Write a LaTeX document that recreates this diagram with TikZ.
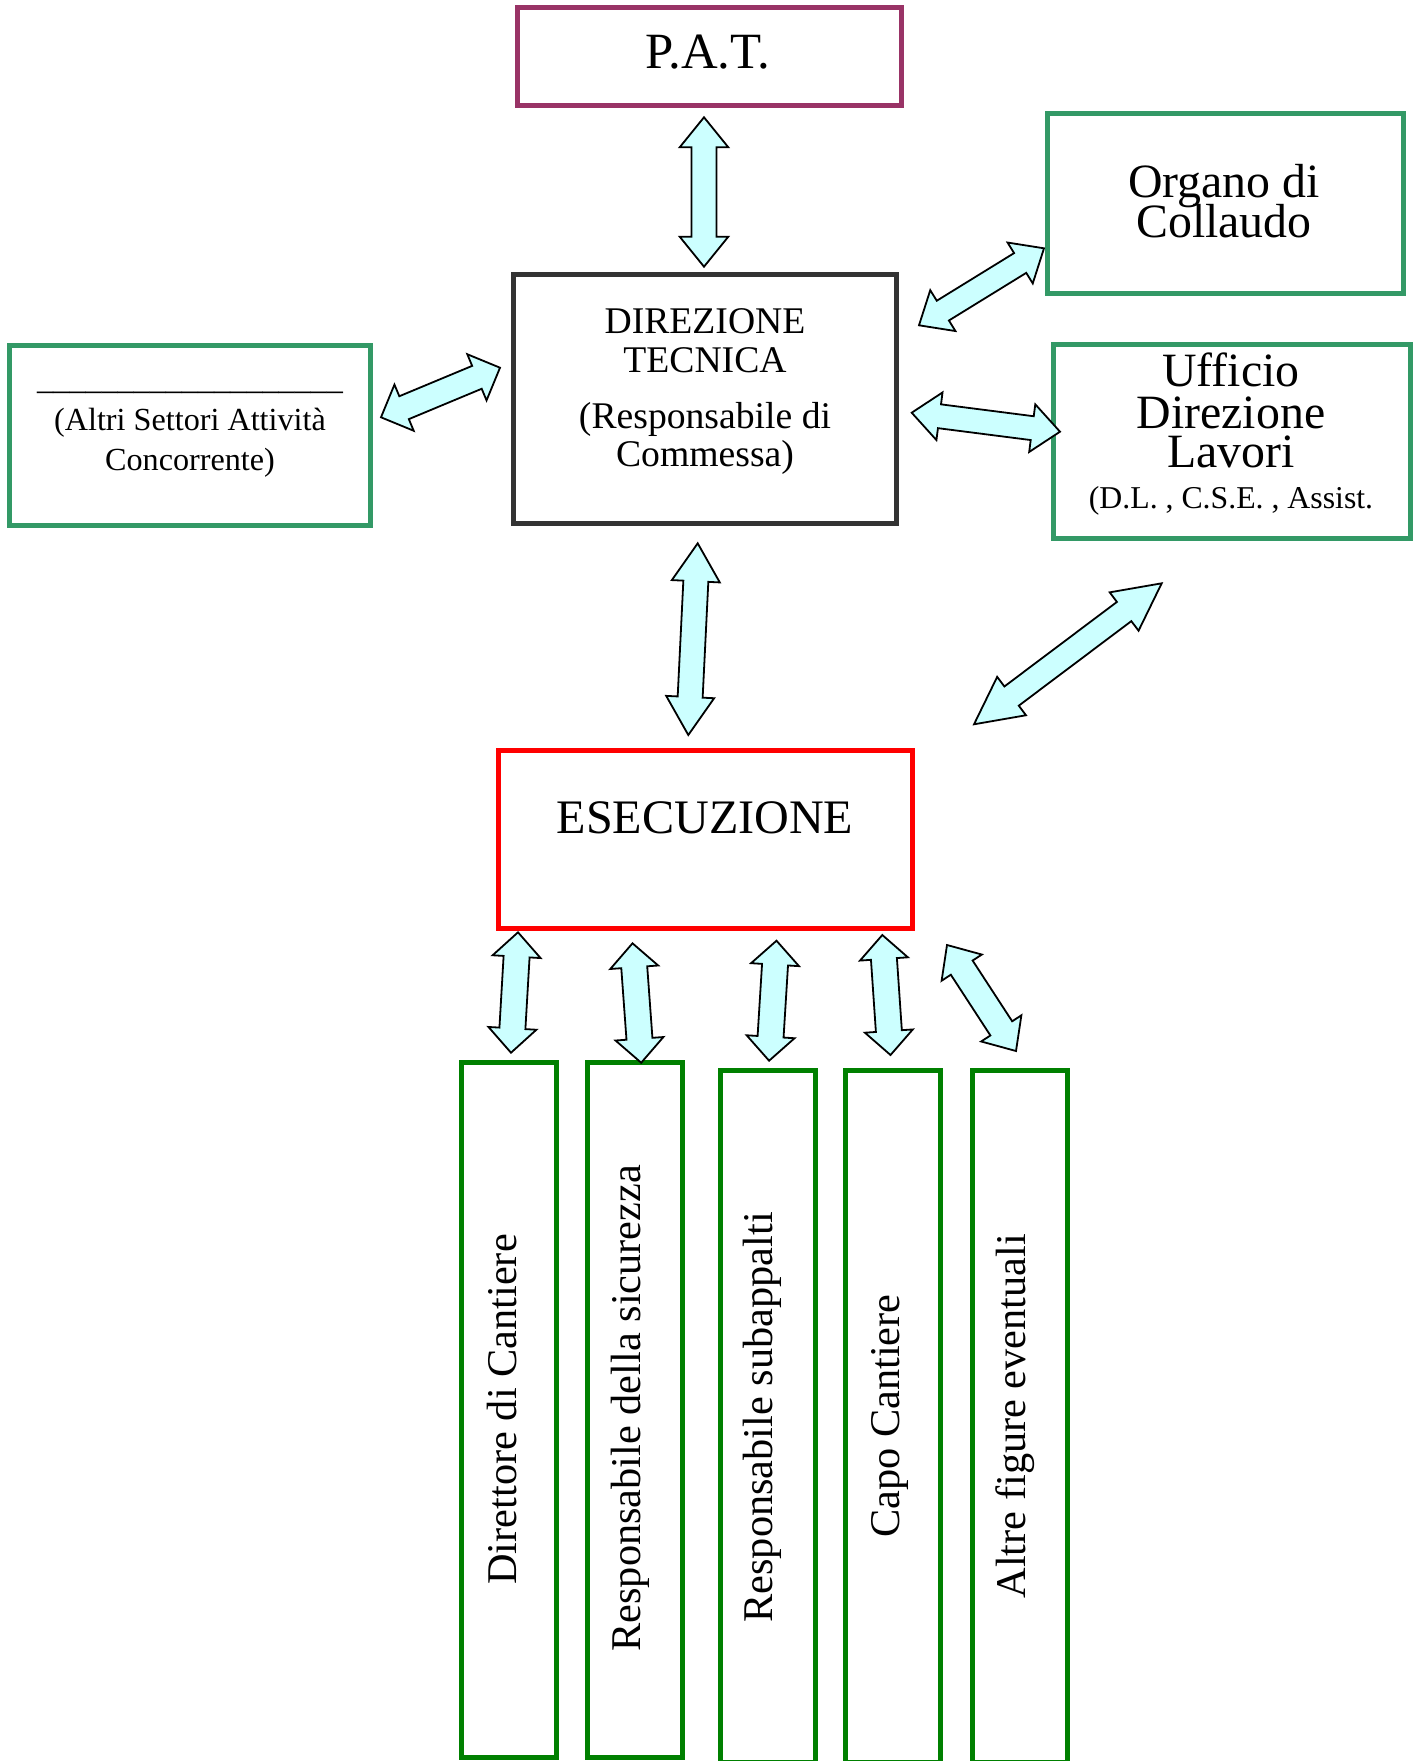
\documentclass[tikz,border=0pt]{standalone}
\usepackage{fontspec}
\setmainfont{Liberation Serif}
\usetikzlibrary{calc}
\definecolor{patcol}{RGB}{153,51,102}
\definecolor{dtcol}{RGB}{51,51,51}
\definecolor{grcol}{RGB}{51,153,102}
\definecolor{bgreen}{RGB}{0,128,0}
\definecolor{esred}{RGB}{255,0,0}
\definecolor{arrfill}{RGB}{204,255,255}
% #1 start, #2 end, #3 head length, #4 head half-width, #5 shaft half-width
\newcommand{\dblarrow}[5]{%
  \path ($(#1)!#3!(#2)$) coordinate (ba-a) ($(#2)!#3!(#1)$) coordinate (ba-b);
  \draw[barrow] (#1) -- ($(ba-a)!#4!90:(#2)$) -- ($(ba-a)!#5!90:(#2)$)
    -- ($(ba-b)!#5!-90:(#1)$) -- ($(ba-b)!#4!-90:(#1)$) -- (#2)
    -- ($(ba-b)!#4!90:(#1)$) -- ($(ba-b)!#5!90:(#1)$)
    -- ($(ba-a)!#5!-90:(#2)$) -- ($(ba-a)!#4!-90:(#2)$) -- cycle;}
\begin{document}
\begin{tikzpicture}[x=1bp,y=-1bp,
  box/.style={draw, line width=5bp, rectangle, inner sep=0pt, outer sep=0pt},
  barrow/.style={draw=black, fill=arrfill, line width=1.8bp, line join=miter},
  lbl/.style={anchor=base, inner sep=0pt, outer sep=0pt},
  vlbl/.style={anchor=base, rotate=90, inner sep=0pt, outer sep=0pt, font=\fontsize{42.5}{42.5}\selectfont}]
\useasboundingbox (0,0) rectangle (1420,1761);
\fill[white] (0,0) rectangle (1420,1761);

% boxes
\node[box, draw=patcol, minimum width=384bp, minimum height=98bp] (pat) at (709.5,56.5) {};
\node[box, draw=dtcol, minimum width=383bp, minimum height=249.5bp] (dt) at (705,398.75) {};
\node[box, draw=grcol, minimum width=356bp, minimum height=179.5bp] (org) at (1225,203.25) {};
\node[box, draw=grcol, minimum width=357bp, minimum height=194bp] (udl) at (1231.5,441.5) {};
\node[box, draw=grcol, minimum width=361bp, minimum height=180bp] (alt) at (190.3,435.2) {};
\node[box, draw=esred, minimum width=414bp, minimum height=178.5bp] (ese) at (705,839.25) {};
\node[box, draw=bgreen, minimum width=95.5bp, minimum height=695.5bp] (b1) at (508.75,1409.75) {};
\node[box, draw=bgreen, minimum width=95bp, minimum height=695.5bp] (b2) at (635,1409.75) {};
\node[box, draw=bgreen, minimum width=95bp, minimum height=692bp] (b3) at (767.5,1416) {};
\node[box, draw=bgreen, minimum width=95bp, minimum height=692bp] (b4) at (893,1416) {};
\node[box, draw=bgreen, minimum width=95.5bp, minimum height=692bp] (b5) at (1019.75,1416) {};

% texts
\node[lbl, font=\fontsize{51}{51}\selectfont] (pat-t) at (708,68.3) {P.A.T.};
\node[lbl, font=\fontsize{37.8}{37.8}\selectfont] (dt-t1) at (705,333.3) {DIREZIONE};
\node[lbl, font=\fontsize{37.8}{37.8}\selectfont] (dt-t2) at (705,372.7) {TECNICA};
\node[lbl, font=\fontsize{37.8}{37.8}\selectfont] (dt-t3) at (705,428.3) {(Responsabile di};
\node[lbl, font=\fontsize{37.8}{37.8}\selectfont] (dt-t4) at (705,466.7) {Commessa)};
\node[lbl, font=\fontsize{48}{48}\selectfont] (org-t1) at (1224,197.3) {Organo di};
\node[lbl, font=\fontsize{48}{48}\selectfont] (org-t2) at (1224,237.5) {Collaudo};
\node[lbl, font=\fontsize{48}{48}\selectfont] (udl-t1) at (1231,386.7) {Ufficio};
\node[lbl, font=\fontsize{48}{48}\selectfont] (udl-t2) at (1231,428.3) {Direzione};
\node[lbl, font=\fontsize{48}{48}\selectfont] (udl-t3) at (1231,467.7) {Lavori};
\node[lbl, font=\fontsize{31.9}{31.9}\selectfont] (udl-t4) at (1231,508.3) {(D.L. , C.S.E. , Assist.};
\node[lbl, font=\fontsize{32.3}{32.3}\selectfont] (alt-t0) at (190,389) {\_\_\_\_\_\_\_\_\_\_\_\_\_\_\_\_\_\_\_};
\node[lbl, font=\fontsize{32.3}{32.3}\selectfont] (alt-t1) at (190,430) {(Altri Settori Attività};
\node[lbl, font=\fontsize{32.3}{32.3}\selectfont] (alt-t2) at (190,470) {Concorrente)};
\node[lbl, font=\fontsize{48.3}{48.3}\selectfont] (ese-t) at (705,833) {ESECUZIONE};
\node[vlbl] (b1-t) at (516.7,1409.4) {Direttore di Cantiere};
\node[vlbl] (b2-t) at (640,1408.3) {Responsabile della sicurezza};
\node[vlbl] (b3-t) at (772.7,1417.4) {Responsabile subappalti};
\node[vlbl] (b4-t) at (899.2,1416.2) {Capo Cantiere};
\node[vlbl] (b5-t) at (1025.7,1416.2) {Altre figure eventuali};

% arrow end points
\coordinate (pa1) at (704,117.3);   \coordinate (pa2) at (704,266.7);
\coordinate (oa1) at (919,325.3);   \coordinate (oa2) at (1044,248.3);
\coordinate (la1) at (381,417.3);   \coordinate (la2) at (500,367.7);
\coordinate (ua1) at (911.7,412.7); \coordinate (ua2) at (1060,431.7);
\coordinate (ea1) at (697.7,543.3); \coordinate (ea2) at (688.3,735);
\coordinate (da1) at (974,724.3);   \coordinate (da2) at (1161.7,583.3);
\coordinate (q1a) at (518,932.3);   \coordinate (q1b) at (511,1052.7);
\coordinate (q2a) at (632.5,943.3); \coordinate (q2b) at (641.2,1062.7);
\coordinate (q3a) at (776.5,940.7); \coordinate (q3b) at (769.1,1060.7);
\coordinate (q4a) at (882.3,935);   \coordinate (q4b) at (890.5,1055);
\coordinate (q5a) at (947,945);     \coordinate (q5b) at (1016,1051);

% block arrows
\dblarrow{pa1}{pa2}{30bp}{24.3bp}{12.5bp}
\dblarrow{oa1}{oa2}{28bp}{24bp}{11.6bp}
\dblarrow{la1}{la2}{25bp}{25bp}{12.4bp}
\dblarrow{ua1}{ua2}{28bp}{24bp}{12bp}
\dblarrow{ea1}{ea2}{38bp}{24bp}{12.5bp}
\dblarrow{da1}{da2}{47bp}{24bp}{12bp}
\dblarrow{q1a}{q1b}{24.4bp}{24bp}{13bp}
\dblarrow{q2a}{q2b}{24bp}{24bp}{13bp}
\dblarrow{q3a}{q3b}{24bp}{24bp}{13bp}
\dblarrow{q4a}{q4b}{24bp}{24bp}{13bp}
\dblarrow{q5a}{q5b}{27bp}{24bp}{13bp}
\end{tikzpicture}
\end{document}
